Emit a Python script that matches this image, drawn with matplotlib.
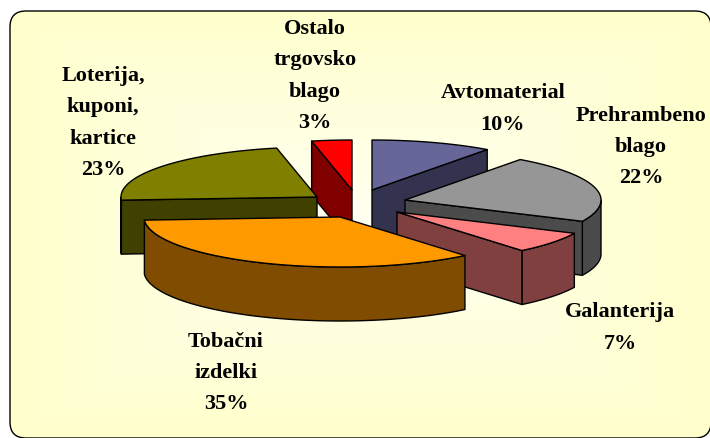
import numpy as np
import matplotlib
matplotlib.use("Agg")
import matplotlib.pyplot as plt
from matplotlib.patches import FancyBboxPatch, Polygon

# ---- data ----
categories = ["Avtomaterial", "Prehrambeno\nblago", "Galanterija",
              "Tobačni\nizdelki", "Loterija,\nkuponi,\nkartice", "Ostalo\ntrgovsko\nblago"]
values = [10.0, 22.0, 7.0, 35.0, 22.7, 3.3]

# ---- styles / layout (pixel space) ----
top_colors = ["#666699", "#969696", "#FF8080", "#FF9900", "#808000", "#FF0000"]
side_colors = ["#33334F", "#4B4B4B", "#804040", "#804D00", "#404000", "#800000"]
apex_x = [372, 405, 397, 340, 317, 352]
apex_y = [190, 200, 212, 217, 197, 190]
label_x = [503, 641, 620, 226, 103, 315]
label_y = [109, 147, 328, 373, 123, 76]
draw_order = [5, 0, 4, 1, 2, 3]
RX, RY, DEPTH = 196, 50, 54
W, H = 710, 438

plt.rcParams["font.family"] = ["Liberation Serif", "DejaVu Serif"]
fig = plt.figure(figsize=(W / 100, H / 100), dpi=100, facecolor="white")
ax = fig.add_axes([0, 0, 1, 1])
ax.set_xlim(0, W)
ax.set_ylim(H, 0)
ax.axis("off")

# rounded gradient panel (its right and bottom edges run to the image border)
x0, y0, x1, y1 = 10, 11, 711, 438
panel = FancyBboxPatch((x0 + 16, y0 + 16), x1 - x0 - 32, y1 - y0 - 32,
                       boxstyle="round,pad=16,rounding_size=16",
                       fc="none", ec="black", lw=1.0, zorder=2, mutation_aspect=1)
ax.add_patch(panel)
u, v = np.meshgrid(np.linspace(-1, 1, 350), np.linspace(-1, 1, 215))
t = np.clip(np.maximum(np.abs(u), np.abs(v)), 0, 1)
grad = np.zeros(u.shape + (3,))
grad[..., 0] = 1.0
grad[..., 1] = 1.0
grad[..., 2] = 0.95 - 0.15 * t
im = ax.imshow(grad, extent=(x0, x1, y1, y0), zorder=1, aspect="auto", interpolation="bilinear")
im.set_clip_path(panel)
ax.set_xlim(0, W)
ax.set_ylim(H, 0)


def pt(cx, cy, deg):
    r = np.radians(deg)
    return cx + RX * np.sin(r), cy - RY * np.cos(r)


edges = np.concatenate([[0], np.cumsum(values)]) / sum(values) * 360
EC = dict(ec="black", lw=1.0, joinstyle="round")

for z, i in enumerate(draw_order):
    a, b = edges[i], edges[i + 1]
    cx, cy = apex_x[i], apex_y[i]
    base = 10 + z * 5
    angs = np.linspace(a, b, 80)
    arc = np.array([pt(cx, cy, d) for d in angs])
    apex = np.array([cx, cy])
    drop = np.array([0, DEPTH])
    # outer rim: the part of the arc that faces the viewer
    fa = angs[(angs >= 90) & (angs <= 270)]
    if fa.size > 1:
        rim = np.array([pt(cx, cy, d) for d in fa])
        ax.add_patch(Polygon(np.vstack([rim, (rim + drop)[::-1]]), fc=side_colors[i], zorder=base, **EC))
    # cut faces that turn towards the viewer
    if np.cos(np.radians(a - 90)) < 0:      # leading edge
        e = np.array(pt(cx, cy, a))
        ax.add_patch(Polygon([apex, e, e + drop, apex + drop], fc=side_colors[i], zorder=base + 1, **EC))
    if np.cos(np.radians(b + 90)) < 0:      # trailing edge
        e = np.array(pt(cx, cy, b))
        ax.add_patch(Polygon([apex, e, e + drop, apex + drop], fc=side_colors[i], zorder=base + 1, **EC))
    ax.add_patch(Polygon(np.vstack([apex, arc]), fc=top_colors[i], zorder=base + 2, **EC))

for name, val, lx, ly in zip(categories, values, label_x, label_y):
    ax.text(lx, ly, f"{name}\n{val:.0f}%", ha="center", va="center", fontsize=16,
            fontweight="bold", color="black", linespacing=1.75, zorder=50)

fig.savefig("out.png", dpi=100)
